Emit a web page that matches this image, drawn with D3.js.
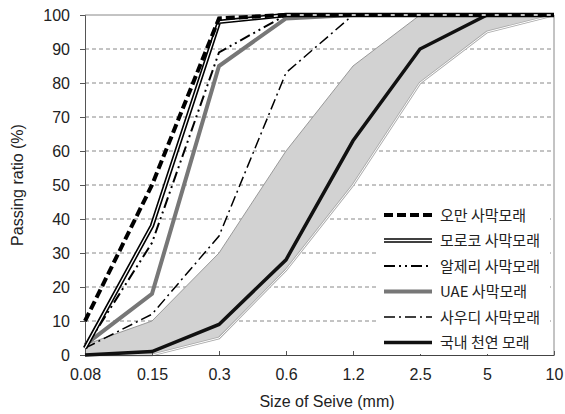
<!DOCTYPE html>
<html>
<head>
<meta charset="utf-8">
<script src="https://cdn.jsdelivr.net/npm/d3@7"></script>
<style>
  body { margin: 0; background: #fff; }
  svg { font-family: "Liberation Sans", Arial, sans-serif; }
  .kr { font-family: "Noto Sans CJK KR", "Liberation Sans", sans-serif; }
</style>
</head>
<body>
<svg id="chart" width="565" height="414"></svg>
<script>
// 체 크기 (mm)
var sizes = ["0.08", "0.15", "0.3", "0.6", "1.2", "2.5", "5", "10"];
var yTicks = [0, 10, 20, 30, 40, 50, 60, 70, 80, 90, 100];

// 표준 입도 범위
var bandUpper = [3, 10, 30, 60, 85, 100, 100, 100];
var bandLower = [0, 0, 5, 25, 50, 80, 95, 100];

// 각 모래 통과율
var oman = [10, 50, 99, 100, 100, 100, 100, 100];
var morocco = [2, 38, 98, 100, 100, 100, 100, 100];
var algeria = [2, 33, 89, 100, 100, 100, 100, 100];
var uae = [3, 18, 85, 99, 100, 100, 100, 100];
var saudi = [2, 12, 35, 83, 100, 100, 100, 100];
var korea = [0, 1, 9, 28, 63, 90, 100, 100];

var names = ["오만 사막모래", "모로코 사막모래", "알제리 사막모래", "UAE 사막모래", "사우디 사막모래", "국내 천연 모래"];

var series = [
  { name: names[0], values: oman, color: "#000", width: 4, dash: "9,4" },
  { name: names[1], values: morocco, color: "#000", width: 4.5, dash: null, dbl: true },
  { name: names[2], values: algeria, color: "#000", width: 2, dash: "11,4,2,4,2,4" },
  { name: names[3], values: uae, color: "#777", width: 4, dash: null },
  { name: names[4], values: saudi, color: "#000", width: 1.5, dash: "11,4,2,4" },
  { name: names[5], values: korea, color: "#111", width: 3.5, dash: null }
];

var svg = d3.select("#chart");
var mLeft = 85, mRight = 554, mTop = 15, mBottom = 355;

var x = d3.scalePoint().domain(sizes).range([mLeft, mRight]);
var y = d3.scaleLinear().domain([0, 100]).range([mBottom, mTop]);

// 그리드
svg.append("g").selectAll("line")
  .data(yTicks.filter(function(d) { return d > 0 && d < 100; }))
  .enter().append("line")
  .attr("x1", mLeft).attr("x2", mRight)
  .attr("y1", function(d) { return y(d); })
  .attr("y2", function(d) { return y(d); })
  .attr("stroke", "#888").attr("stroke-width", 1)
  .attr("stroke-dasharray", "4,3");

// 범위 음영
var band = sizes.map(function(s, i) { return { s: s, lo: bandLower[i], hi: bandUpper[i] }; });
svg.append("path")
  .datum(band)
  .attr("fill", "#d2d2d2")
  .attr("d", d3.area()
    .x(function(d) { return x(d.s); })
    .y0(function(d) { return y(d.lo); })
    .y1(function(d) { return y(d.hi); }));
svg.append("path")
  .datum(band)
  .attr("fill", "none").attr("stroke", "#999").attr("stroke-width", 1)
  .attr("d", d3.line().x(function(d) { return x(d.s); }).y(function(d) { return y(d.hi); }));
svg.append("path")
  .datum(band)
  .attr("fill", "none").attr("stroke", "#aaa").attr("stroke-width", 2.5)
  .attr("d", d3.line().x(function(d) { return x(d.s); }).y(function(d) { return y(d.lo); }));
svg.append("path")
  .datum(band)
  .attr("fill", "none").attr("stroke", "#fff").attr("stroke-width", 1)
  .attr("d", d3.line().x(function(d) { return x(d.s); }).y(function(d) { return y(d.lo); }));

// 테두리
svg.append("line").attr("x1", mLeft).attr("x2", mRight).attr("y1", mTop).attr("y2", mTop)
  .attr("stroke", "#888");
svg.append("line").attr("x1", mRight).attr("x2", mRight).attr("y1", mTop).attr("y2", mBottom)
  .attr("stroke", "#888");

// 축
var yAxis = svg.append("g")
  .attr("transform", "translate(" + mLeft + ",0)")
  .call(d3.axisLeft(y).tickValues(yTicks).tickSize(5).tickPadding(10));
yAxis.select(".domain").attr("stroke", "#555");
yAxis.selectAll(".tick line").attr("stroke", "#555");
yAxis.selectAll("text").attr("font-size", 16).attr("fill", "#222")
  .attr("font-family", "Liberation Sans, Arial, sans-serif");

var xAxis = svg.append("g")
  .attr("transform", "translate(0," + mBottom + ")")
  .call(d3.axisBottom(x).tickSize(-4).tickPadding(14).tickSizeOuter(0));
xAxis.select(".domain").attr("stroke", "#444");
xAxis.selectAll(".tick line").attr("stroke", "#555");
xAxis.selectAll("text").attr("font-size", 16).attr("fill", "#222")
  .attr("font-family", "Liberation Sans, Arial, sans-serif");

// 곡선
var line = d3.line()
  .x(function(d, i) { return x(sizes[i]); })
  .y(function(d) { return y(d); });

function drawStroke(g, s, x1, y1, x2, y2) {
  var p = g.append("path");
  if (x1 !== undefined) {
    p.attr("d", "M" + x1 + "," + y1 + "L" + x2 + "," + y2);
  } else {
    p.attr("d", line(s.values));
  }
  p.attr("fill", "none").attr("stroke", s.color).attr("stroke-width", s.width)
    .attr("stroke-linejoin", "miter");
  if (s.dash) p.attr("stroke-dasharray", s.dash);
  if (s.dbl) {
    g.append("path").attr("d", p.attr("d"))
      .attr("fill", "none").attr("stroke", "#fff").attr("stroke-width", 1.3);
  }
}

var lines = svg.append("g");
[5, 4, 3, 2, 1, 0].forEach(function(i) { drawStroke(lines, series[i]); });

// 범례
var lg = svg.append("g");
lg.append("rect").attr("x", 378).attr("y", 202).attr("width", 172).attr("height", 152)
  .attr("fill", "#fff");
series.forEach(function(s, i) {
  var yy = 215 + i * 25.5;
  drawStroke(lg, s, 384, yy, 432, yy);
  lg.append("text").attr("class", "kr")
    .attr("x", 440).attr("y", yy + 5.5)
    .attr("font-size", 15).attr("fill", "#222")
    .text(s.name);
});

// 축 제목
svg.append("text")
  .attr("transform", "translate(23," + (mTop + mBottom) / 2 + ") rotate(-90)")
  .attr("text-anchor", "middle").attr("font-size", 16).attr("fill", "#222")
  .text("Passing ratio (%)");
svg.append("text")
  .attr("x", 327).attr("y", 407)
  .attr("text-anchor", "middle").attr("font-size", 16).attr("fill", "#222")
  .text("Size of Seive (mm)");
</script>
</body>
</html>
